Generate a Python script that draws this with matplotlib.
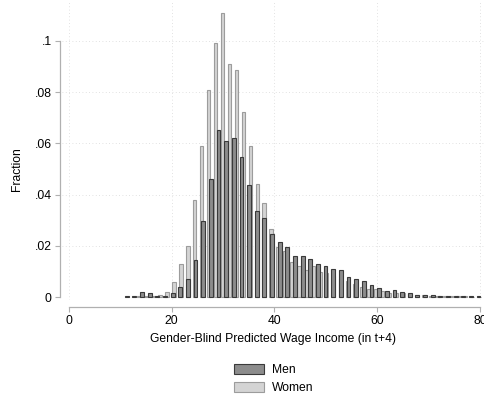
import matplotlib
matplotlib.use('Agg')
import matplotlib.pyplot as plt
import matplotlib.patches as patches
import numpy as np

# histogram heights (fraction)
men_start = 11.23
men_width = 1.489
men = [.0002, .0002, .0020, .0017, .0003, .0004, .0014, .0040, .0069, .0143,
       .0297, .0462, .0651, .0608, .0621, .0547, .0436, .0335, .0307, .0245,
       .0214, .0195, .0160, .0159, .0148, .0130, .0120, .0109, .0104, .0077,
       .0069, .0061, .0046, .0034, .0025, .0026, .0020, .0014, .0007, .0009,
       .0007, .0005, .0004, .0003, .0002, .0002, .0002]

women_start = 13.66
women_width = 1.352
women = [.0002, .0003, .0004, .0006, .0018, .0057, .0129, .0199, .0380, .0590,
         .0810, .0993, .1110, .0909, .0888, .0721, .0590, .0440, .0366, .0267,
         .0194, .0180, .0136, .0121, .0105, .0121, .0098, .0093, .0082, .0072,
         .0063, .0050, .0039, .0032, .0030, .0022, .0017, .0014, .0014, .0010,
         .0009, .0007, .0005, .0004, .0003, .0003, .0002, .0002, .0001, .0001]

xticks = [0, 20, 40, 60, 80]
yticks = [0, .02, .04, .06, .08, .1]
ylabels = ['0', '.02', '.04', '.06', '.08', '.1']

men_fc, men_ec = '#8c8c8c', '#3a3a3a'
women_fc, women_ec = '#d4d4d4', '#9c9c9c'
axis_c = '#b0b0b0'

plt.rcParams['font.family'] = ['Liberation Sans', 'DejaVu Sans']
plt.rcParams['font.size'] = 8.7

W, H = 484, 398
fig = plt.figure(figsize=(W / 100, H / 100), dpi=100)
# plot region in pixels
l, r, t, b = 62, 484, 2, 300
ax = fig.add_axes([l / W, (H - b) / H, (r - l) / W, (b - t) / H])

# data <-> pixel mapping from the reference
px_per_x = 411 / 80.0
px_per_y = 2560.0
ax.set_xlim(-(69 - l) / px_per_x, 80 + (r - 480) / px_per_x)
ax.set_ylim(-(b - 297) / px_per_y, (297 - t) / px_per_y)

xw = np.arange(len(women)) * women_width + women_start
xm = np.arange(len(men)) * men_width + men_start
ax.bar(xw, women, width=women_width * 0.5, color=women_fc, edgecolor=women_ec,
       linewidth=0.8, zorder=2)
ax.bar(xm, men, width=men_width * 0.5, color=men_fc, edgecolor=men_ec,
       linewidth=0.8, zorder=3)

# grid
for v in xticks:
    ax.axvline(v, color='#d8d8d8', lw=0.6, ls=(0, (1, 3)), zorder=1)
for v in yticks[1:]:
    ax.axhline(v, color='#d8d8d8', lw=0.6, ls=(0, (1, 3)), zorder=1)

for s in ['top', 'right']:
    ax.spines[s].set_visible(False)
ax.spines['left'].set_position(('outward', 1.5))
ax.spines['bottom'].set_position(('outward', 5))
ax.spines['left'].set_bounds(0, 0.1)
ax.spines['bottom'].set_bounds(0, 80)
for s in ['left', 'bottom']:
    ax.spines[s].set_color(axis_c)
    ax.spines[s].set_linewidth(0.9)

ax.set_xticks(xticks)
ax.set_xticklabels([str(v) for v in xticks])
ax.set_yticks(yticks)
ax.set_yticklabels(ylabels)
ax.tick_params(axis='both', color=axis_c, length=3.5, width=0.8, pad=2.5)

ax.set_xlabel('Gender-Blind Predicted Wage Income (in t+4)', labelpad=4)
ax.set_ylabel('Fraction')
ax.yaxis.set_label_coords(-(62 - 23) / (r - l), (b - 169) / (b - t))

h_men = patches.Patch(facecolor=men_fc, edgecolor=men_ec, linewidth=0.8, label='Men')
h_women = patches.Patch(facecolor=women_fc, edgecolor=women_ec, linewidth=0.8, label='Women')
fig.legend(handles=[h_men, h_women], loc='center', bbox_to_anchor=(274 / W, (H - 379) / H),
           frameon=False, handlelength=2.45, handleheight=0.9, labelspacing=0.5,
           handletextpad=0.7, borderpad=0)

fig.savefig('out.png', dpi=100)
